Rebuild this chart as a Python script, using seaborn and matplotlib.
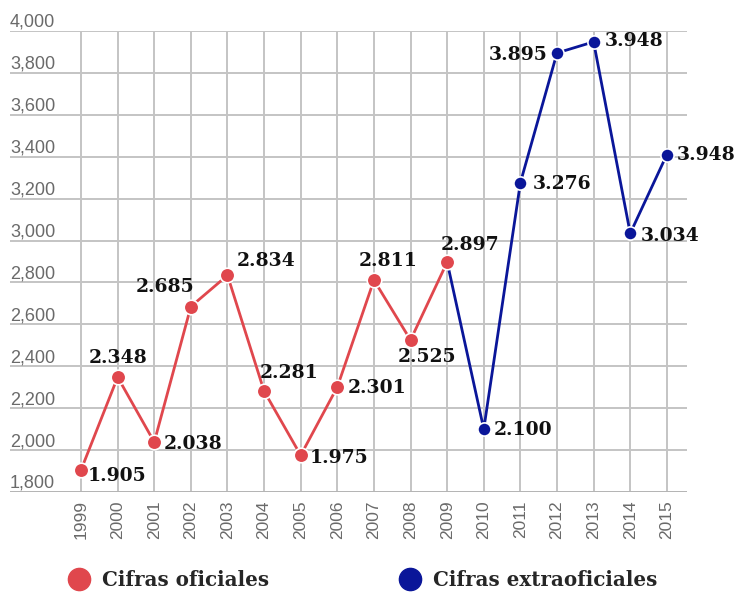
import numpy as np
import pandas as pd
import seaborn as sns
import matplotlib.pyplot as plt
from matplotlib.lines import Line2D

# official figures 1999-2009, unofficial 2009-2015
years_of = [1999, 2000, 2001, 2002, 2003, 2004, 2005, 2006, 2007, 2008, 2009]
vals_of = [1905, 2348, 2038, 2685, 2834, 2281, 1975, 2301, 2811, 2525, 2897]
years_ex = [2009, 2010, 2011, 2012, 2013, 2014, 2015]
vals_ex = [2897, 2100, 3276, 3895, 3948, 3034, 3410]

# labels as printed on the original (2015 reads 3.948 there)
labels_of = ['1.905', '2.348', '2.038', '2.685', '2.834', '2.281', '1.975',
             '2.301', '2.811', '2.525', '2.897']
labels_ex = ['2.100', '3.276', '3.895', '3.948', '3.034', '3.948']

RED = '#E0474D'
BLUE = '#0A1699'
# label placement: (dx px, dy px, ha, va)
place_of = [(7, -6, 'left', 'center'), (0, 10, 'center', 'bottom'),
            (9, -2, 'left', 'center'), (3, 11, 'right', 'bottom'),
            (9, 5, 'left', 'bottom'), (-4, 9, 'left', 'bottom'),
            (9, -3, 'left', 'center'), (10, -1, 'left', 'center'),
            (14, 10, 'center', 'bottom'), (16, -8, 'center', 'top'),
            (-6, 8, 'left', 'bottom')]
place_ex = [(10, -1, 'left', 'center'), (12, -1, 'left', 'center'),
            (-10, -2, 'right', 'center'), (11, 1, 'left', 'center'),
            (11, -3, 'left', 'center'), (10, 0, 'left', 'center')]

df_of = pd.DataFrame({'year': years_of, 'val': vals_of})
df_ex = pd.DataFrame({'year': years_ex, 'val': vals_ex})

sns.set_style('white')
fig = plt.figure(figsize=(7.41, 5.92), dpi=100)
ax = fig.add_axes([0.0135, 0.169, 0.9136, 0.7787])

sns.lineplot(data=df_ex, x='year', y='val', color=BLUE, lw=2.0, ax=ax, zorder=3)
sns.lineplot(data=df_ex.iloc[1:], x='year', y='val', color=BLUE, lw=0, marker='o',
             markersize=9.5, markeredgecolor='white', markeredgewidth=1.2, ax=ax, zorder=4)
sns.lineplot(data=df_of, x='year', y='val', color=RED, lw=2.0, marker='o',
             markersize=10.5, markeredgecolor='white', markeredgewidth=1.2, ax=ax, zorder=5)

tfont = dict(family='DejaVu Serif', weight='bold', size=13.5, color='#111111')
for x, y, t, (dx, dy, ha, va) in zip(years_of, vals_of, labels_of, place_of):
    ax.annotate(t, (x, y), xytext=(dx, dy), textcoords='offset pixels',
                ha=ha, va=va, zorder=6, **tfont)
for x, y, t, (dx, dy, ha, va) in zip(years_ex[1:], vals_ex[1:], labels_ex, place_ex):
    ax.annotate(t, (x, y), xytext=(dx, dy), textcoords='offset pixels',
                ha=ha, va=va, zorder=6, **tfont)

ax.set_xlim(1997.06, 2015.55)
ax.set_ylim(1800, 4000)
ax.set_xticks(range(1999, 2016))
ax.set_xticklabels([str(y) for y in range(1999, 2016)], rotation=90,
                   family='Liberation Sans', fontsize=12.5, color='#6a6a6a')
yt = list(range(1800, 4001, 200))
ax.set_yticks(yt)
ax.set_yticklabels([f'{v:,}' for v in yt], ha='left', va='bottom',
                   family='Liberation Sans', fontsize=13, color='#6a6a6a')
ax.tick_params(axis='y', length=0, pad=0)
ax.tick_params(axis='x', length=0, pad=6)
for lab in ax.get_yticklabels():
    lab.set_y(lab.get_position()[1])
ax.grid(True, color='#c4c4c4', lw=1.4)
ax.set_axisbelow(True)
for s in ax.spines.values():
    s.set_visible(False)
ax.axhline(1800, color='#b0b0b0', lw=1.8, zorder=1)
ax.set_xlabel('')
ax.set_ylabel('')

handles = [Line2D([], [], ls='', marker='o', markersize=16, color=RED),
           Line2D([], [], ls='', marker='o', markersize=16, color=BLUE)]
fig.legend(handles, ['Cifras oficiales', 'Cifras extraoficiales'], ncol=2,
           loc='center', bbox_to_anchor=(0.4885, 0.02), frameon=False,
           columnspacing=6.5, handlelength=1.2, handletextpad=0.55,
           prop=dict(family='DejaVu Serif', weight='bold', size=14.3))

fig.savefig('out.png', dpi=100)
